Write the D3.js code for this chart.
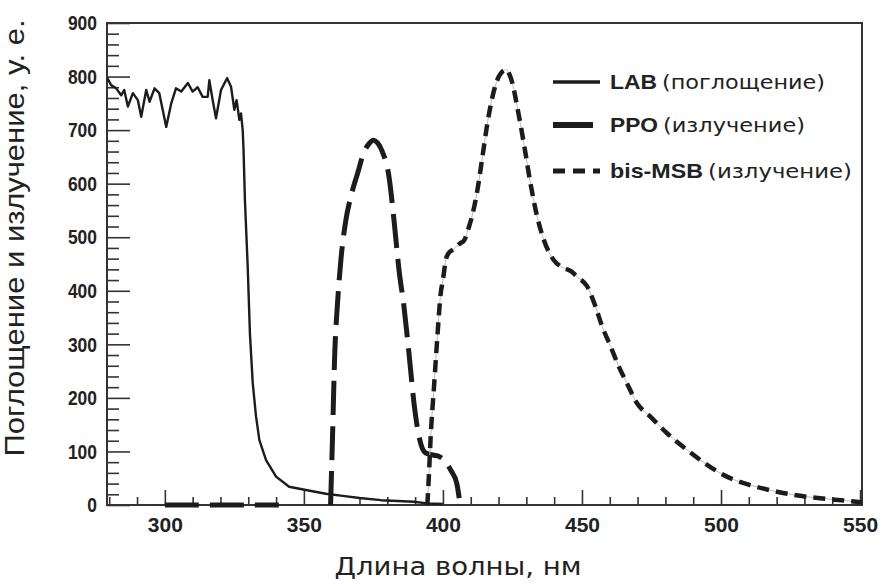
<!DOCTYPE html>
<html>
<head>
<meta charset="utf-8">
<script src="https://cdn.jsdelivr.net/npm/d3@7/dist/d3.min.js"></script>
<style>
  html, body { margin: 0; padding: 0; background: #fff; }
  svg { display: block; }
</style>
</head>
<body>
<svg id="chart" width="882" height="586"></svg>
<script>
// Absorption spectrum of LAB and emission spectra of PPO and bis-MSB
// [wavelength nm, intensity a.u.]
const labAbsorption = [
  [279.3,797],[280.7,784],[282.5,778],[284.3,765],[285.4,775],[286.7,744],[288.5,769],
  [290.3,756],[291.5,725],[293.3,775],[294.5,753],[296.3,778],[298,769],[300.5,706],
  [302.3,750],[304,778],[305.9,772],[308.3,788],[310,772],[311.8,780],[313.6,762],
  [315.4,762],[316,793],[317.2,756],[318.4,722],[320.2,775],[322.4,797],[323.8,781],
  [325,738],[325.8,756],[326.8,719],[327.4,731],[328,700],[328.3,663],[328.8,569],
  [329.8,445],[330.6,320],[331.6,228],[332.8,165],[334,121],[336.4,84],[340,53],
  [344.7,34],[350.7,28],[357.9,21],[364,17],[370,13],[377.7,9],[389.5,6],[394.4,3],[400,2]
];
// null marks the break between the baseline stretch and the band
const ppoEmission = [
  [300,0],[341,0],[342,null],[359.6,0],[360.3,128],[361.1,283],[362.1,377],[363.3,457],
  [365.1,532],[366.9,576],[369.3,619],[371.7,660],[373.5,675],[375,681],[376.5,676],
  [378.2,660],[380.6,613],[382.4,532],[384.2,439],[386,370],[387.8,283],[389.6,190],
  [391.4,128],[393.8,97],[396.8,93],[398.5,91],[400.4,84],[402.8,65],[405,40],
  [405.8,15],[406.2,0]
];
const bisMsbEmission = [
  [394.4,0],[395,60],[395.6,128],[396.8,221],[398,314],[399.2,395],[400,420],[401,457],
  [402,470],[404,478],[406,488],[407.6,494],[409.4,520],[410.5,540],[412.4,588],
  [414.2,650],[416,713],[417.8,762],[420.1,800],[421.5,810],[422.9,813],[424,803],
  [425,787],[426.7,744],[429.1,675],[431.5,600],[433.9,538],[436.3,495],[439.9,457],
  [442.5,445],[445.9,437],[448.5,425],[451.9,408],[454.9,370],[457.3,333],[460.3,296],
  [463.3,258],[466.2,227],[469.8,190],[474.6,165],[480.6,134],[487.8,103],[495,75],
  [502.1,53],[509.3,39],[516.5,29],[526.1,19],[535.7,12.5],[545.2,8],[550.7,5]
];

const xMajorTicks = [300, 350, 400, 450, 500, 550];
const xMinorTicks = d3.range(280, 551, 10).filter(v => v % 50 !== 0);
const yMajorTicks = [0, 100, 200, 300, 400, 500, 600, 700, 800, 900];
const yMinorTicks = d3.range(0, 901, 20).filter(v => v % 100 !== 0);

const legendNames = ["LAB", "PPO", "bis-MSB"];
const legendNotes = ["(поглощение)", "(излучение)", "(излучение)"];

const xTitle = "Длина волны, нм";
const yTitle = "Поглощение и излучение, у. е.";

const svg = d3.select("#chart");
const ink = "#1c1c1c";
const frame = { left: 107, right: 862, top: 23, bottom: 505 };

const x = d3.scaleLinear().domain([279.2, 550.7]).range([frame.left, frame.right]);
const y = d3.scaleLinear().domain([0, 900]).range([frame.bottom, frame.top]);

// axes with inward ticks
const gx = svg.append("g").attr("transform", `translate(0,${frame.bottom})`);
gx.call(d3.axisBottom(x).tickValues(xMinorTicks).tickSize(-8).tickFormat(""));
const gxMaj = svg.append("g").attr("class", "xmaj").attr("transform", `translate(0,${frame.bottom})`);
gxMaj.call(d3.axisBottom(x).tickValues(xMajorTicks).tickSize(-15).tickPadding(12).tickFormat(d3.format("d")));

const gy = svg.append("g").attr("transform", `translate(${frame.left},0)`);
gy.call(d3.axisLeft(y).tickValues(yMinorTicks).tickSize(-12).tickFormat(""));
const gyMaj = svg.append("g").attr("class", "ymaj").attr("transform", `translate(${frame.left},0)`);
gyMaj.call(d3.axisLeft(y).tickValues(yMajorTicks).tickSize(-23).tickPadding(10).tickFormat(d3.format("d")));

svg.selectAll(".domain").remove();
svg.selectAll(".tick line").attr("stroke", "#333").attr("stroke-width", 1.6);
svg.selectAll(".tick text")
  .attr("fill", "#222")
  .style("font-family", "'Liberation Sans', Arial, sans-serif")
  .style("font-weight", "bold")
  .style("font-size", "21px");
// narrower digits on the value axis
gyMaj.selectAll(".tick text")
  .attr("textLength", d => String(d).length * 9.7)
  .attr("lengthAdjust", "spacingAndGlyphs");

// plot frame
svg.append("rect")
  .attr("x", frame.left).attr("y", frame.top)
  .attr("width", frame.right - frame.left).attr("height", frame.bottom - frame.top)
  .attr("fill", "none").attr("stroke", "#333").attr("stroke-width", 2);

const lineLinear = d3.line()
  .defined(d => d[1] !== null)
  .x(d => x(d[0])).y(d => y(d[1]));
const lineSmooth = d3.line()
  .defined(d => d[1] !== null)
  .curve(d3.curveMonotoneX)
  .x(d => x(d[0])).y(d => y(d[1]));

// LAB absorption: thin solid
svg.append("path").datum(labAbsorption)
  .attr("d", lineLinear)
  .attr("fill", "none").attr("stroke", ink).attr("stroke-width", 2.4)
  .attr("stroke-linejoin", "round");

// PPO emission: long dashes
svg.append("path").datum(ppoEmission)
  .attr("d", lineSmooth)
  .attr("fill", "none").attr("stroke", ink).attr("stroke-width", 5)
  .attr("stroke-dasharray", "34,11");

// bis-MSB emission: short dashes over a faint guide line
svg.append("path").datum(bisMsbEmission)
  .attr("d", lineSmooth)
  .attr("fill", "none").attr("stroke", "#bbb").attr("stroke-width", 1);
svg.append("path").datum(bisMsbEmission)
  .attr("d", lineSmooth)
  .attr("fill", "none").attr("stroke", ink).attr("stroke-width", 4.5)
  .attr("stroke-dasharray", "12,7");

// legend
const legendRows = [82, 125, 171];
const legendStyles = [
  { w: 3.5, dash: null, x2: 600 },
  { w: 6, dash: null, x2: 593 },
  { w: 5, dash: "12,8", x2: 600 }
];
const nameWidths = [47, 48, 93];
const noteWidths = [163, 142, 144];
legendNames.forEach((name, i) => {
  const ly = legendRows[i];
  const st = legendStyles[i];
  svg.append("line")
    .attr("x1", 553).attr("x2", st.x2).attr("y1", ly).attr("y2", ly)
    .attr("stroke", ink).attr("stroke-width", st.w)
    .attr("stroke-dasharray", st.dash);
  const t = svg.append("text")
    .attr("x", 610).attr("y", ly + 6.5)
    .attr("fill", "#222");
  t.append("tspan")
    .style("font-family", "'Liberation Sans', Arial, sans-serif")
    .style("font-weight", "bold").style("font-size", "21px")
    .attr("textLength", nameWidths[i]).attr("lengthAdjust", "spacingAndGlyphs")
    .text(name);
  t.append("tspan")
    .attr("dx", 5)
    .style("font-family", "'DejaVu Sans', sans-serif")
    .style("font-size", "19px")
    .attr("textLength", noteWidths[i]).attr("lengthAdjust", "spacingAndGlyphs")
    .text(legendNotes[i]);
});

// axis titles
svg.append("text")
  .attr("x", 458).attr("y", 575)
  .attr("text-anchor", "middle")
  .attr("fill", "#222")
  .style("font-family", "'DejaVu Sans', sans-serif")
  .style("font-size", "25px")
  .attr("textLength", 247).attr("lengthAdjust", "spacingAndGlyphs")
  .text(xTitle);

svg.append("text")
  .attr("transform", "translate(24,238) rotate(-90)")
  .attr("text-anchor", "middle")
  .attr("fill", "#222")
  .style("font-family", "'Liberation Sans', Arial, sans-serif")
  .style("font-size", "28px")
  .style("font-weight", "500")
  .attr("textLength", 437).attr("lengthAdjust", "spacingAndGlyphs")
  .text(yTitle);
</script>
</body>
</html>
